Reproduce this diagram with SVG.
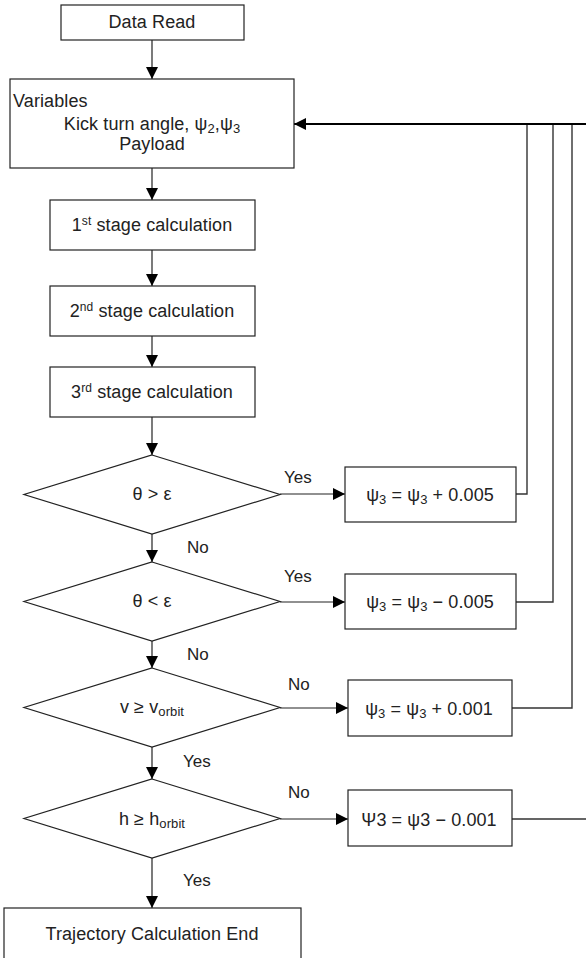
<svg xmlns="http://www.w3.org/2000/svg" width="586" height="958" viewBox="0 0 586 958">
<style>
.box{fill:#fff;stroke:#222;stroke-width:1.2}
.ln{fill:none;stroke:#222;stroke-width:1.2}
.fb{fill:none;stroke:#333;stroke-width:1.4}
.t{font-family:"Liberation Sans",Arial,sans-serif;font-size:18px;fill:#222;letter-spacing:0.1px}
.c{text-anchor:middle}
.lbl{font-family:"Liberation Sans",Arial,sans-serif;font-size:17px;fill:#222}
</style>
<defs>
<marker id="ah" viewBox="0 0 10 10" refX="10" refY="5" markerWidth="12" markerHeight="12" markerUnits="userSpaceOnUse" orient="auto">
<path d="M0,0 L10,5 L0,10 z" fill="#000"/>
</marker>
</defs>

<g id="connectors">
<path class="ln" d="M152,40 V79" marker-end="url(#ah)"/>
<path class="ln" d="M152,168 V200" marker-end="url(#ah)"/>
<path class="ln" d="M152,250 V286" marker-end="url(#ah)"/>
<path class="ln" d="M152,336 V367" marker-end="url(#ah)"/>
<path class="ln" d="M152,417 V455" marker-end="url(#ah)"/>
<path class="ln" d="M152,534 V562" marker-end="url(#ah)"/>
<path class="ln" d="M152,641 V668" marker-end="url(#ah)"/>
<path class="ln" d="M152,747 V779" marker-end="url(#ah)"/>
<path class="ln" d="M152,858 V908" marker-end="url(#ah)"/>
<path class="ln" d="M280,494 H345" marker-end="url(#ah)"/>
<path class="ln" d="M280,602 H345" marker-end="url(#ah)"/>
<path class="ln" d="M280,708 H348" marker-end="url(#ah)"/>
<path class="ln" d="M280,819 H348" marker-end="url(#ah)"/>
<path class="fb" d="M516,494 H527 V124"/>
<path class="fb" d="M516,602 H553 V124"/>
<path class="fb" d="M512,708 H572 V124"/>
<path class="fb" d="M512,819 H590 V124"/>
<path fill="none" stroke="#000" stroke-width="2" d="M590,124 H294" marker-end="url(#ah)"/>
<text class="lbl" x="284" y="483">Yes</text>
<text class="lbl" x="187" y="553">No</text>
<text class="lbl" x="284" y="582">Yes</text>
<text class="lbl" x="187" y="660">No</text>
<text class="lbl" x="288" y="690">No</text>
<text class="lbl" x="183" y="767">Yes</text>
<text class="lbl" x="288" y="798">No</text>
<text class="lbl" x="183" y="886">Yes</text>
</g>

<g id="data-read">
<rect class="box" x="61" y="5" width="183" height="35"/>
<text class="t c" x="152" y="28">Data Read</text>
</g>

<g id="variables">
<rect class="box" x="10" y="79" width="284" height="89"/>
<text class="t" x="13" y="107">Variables</text>
<text class="t c" x="152" y="130">Kick turn angle, ψ<tspan font-size="13" dy="3">2</tspan><tspan dy="-3">,ψ</tspan><tspan font-size="13" dy="3">3</tspan></text>
<text class="t c" x="152" y="150">Payload</text>
</g>

<g id="stage1">
<rect class="box" x="50" y="200" width="205" height="50"/>
<text class="t c" x="152" y="231">1<tspan font-size="12" dy="-6">st</tspan><tspan dy="6"> stage calculation</tspan></text>
</g>

<g id="stage2">
<rect class="box" x="50" y="286" width="205" height="50"/>
<text class="t c" x="152" y="317">2<tspan font-size="12" dy="-6">nd</tspan><tspan dy="6"> stage calculation</tspan></text>
</g>

<g id="stage3">
<rect class="box" x="50" y="367" width="205" height="50"/>
<text class="t c" x="152" y="398">3<tspan font-size="12" dy="-6">rd</tspan><tspan dy="6"> stage calculation</tspan></text>
</g>

<g id="dec1">
<polygon class="box" points="152,455 280,494.5 152,534 24,494.5"/>
<text class="t c" x="152" y="500">θ &gt; ε</text>
</g>

<g id="dec2">
<polygon class="box" points="152,562 280,601.5 152,641 24,601.5"/>
<text class="t c" x="152" y="607">θ &lt; ε</text>
</g>

<g id="dec3">
<polygon class="box" points="152,668 280,707.5 152,747 24,707.5"/>
<text class="t c" x="152" y="713">v ≥ v<tspan font-size="13" dy="3">orbit</tspan></text>
</g>

<g id="dec4">
<polygon class="box" points="152,779 280,818.5 152,858 24,818.5"/>
<text class="t c" x="152" y="825">h ≥ h<tspan font-size="13" dy="3">orbit</tspan></text>
</g>

<g id="upd1">
<rect class="box" x="345" y="467" width="171" height="55"/>
<text class="t c" x="430" y="501">ψ<tspan font-size="13" dy="3">3</tspan><tspan dy="-3"> = ψ</tspan><tspan font-size="13" dy="3">3</tspan><tspan dy="-3"> + 0.005</tspan></text>
</g>

<g id="upd2">
<rect class="box" x="345" y="574" width="171" height="55"/>
<text class="t c" x="430" y="608">ψ<tspan font-size="13" dy="3">3</tspan><tspan dy="-3"> = ψ</tspan><tspan font-size="13" dy="3">3</tspan><tspan dy="-3"> − 0.005</tspan></text>
</g>

<g id="upd3">
<rect class="box" x="348" y="680" width="164" height="56"/>
<text class="t c" x="429" y="715">ψ<tspan font-size="13" dy="3">3</tspan><tspan dy="-3"> = ψ</tspan><tspan font-size="13" dy="3">3</tspan><tspan dy="-3"> + 0.001</tspan></text>
</g>

<g id="upd4">
<rect class="box" x="348" y="790" width="164" height="56"/>
<text class="t c" x="429" y="826">Ψ3 = ψ3 − 0.001</text>
</g>

<g id="end">
<rect class="box" x="4" y="908" width="297" height="60"/>
<text class="t c" x="152" y="940">Trajectory Calculation End</text>
</g>
</svg>
